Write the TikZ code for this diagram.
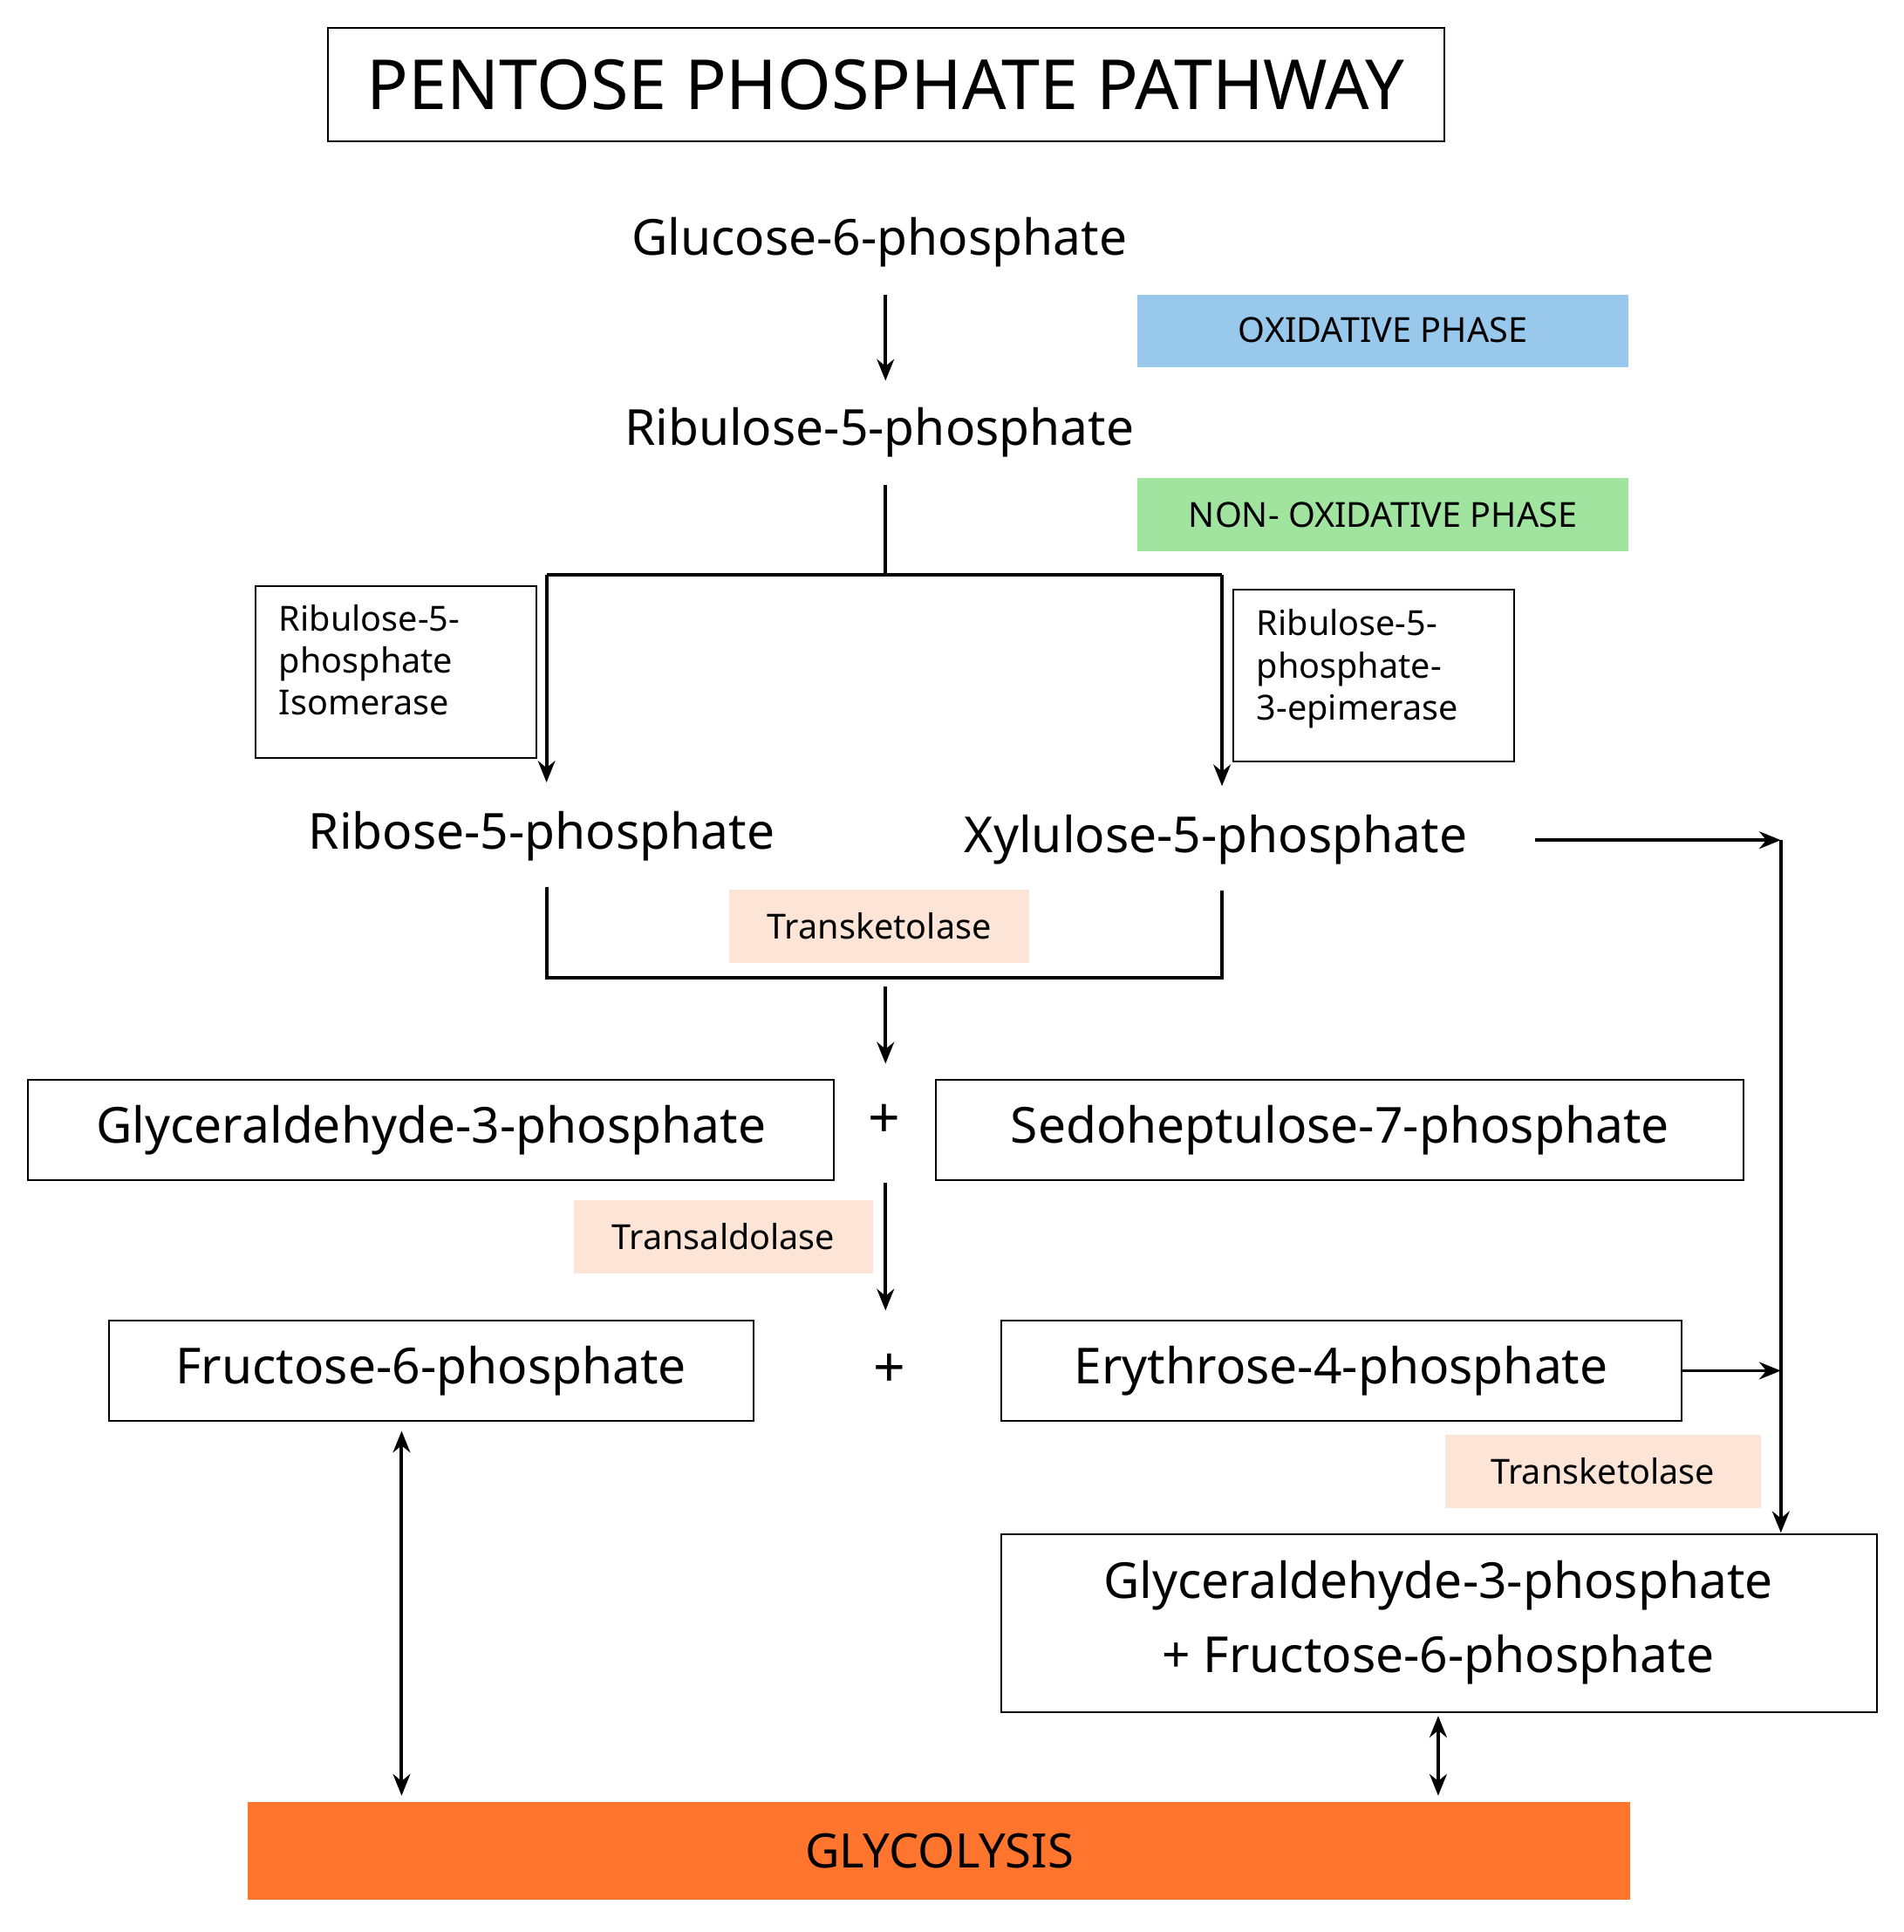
\documentclass[tikz,border=0pt]{standalone}
\usepackage{fontspec}
\setmainfont{Noto Sans}
\usetikzlibrary{arrows.meta}
\definecolor{oxb}{RGB}{152,201,236}
\definecolor{nox}{RGB}{160,228,160}
\definecolor{peach}{RGB}{252,228,214}
\definecolor{orng}{RGB}{255,117,46}
\begin{document}
\begin{tikzpicture}[x=0.02cm,y=-0.02cm,
 big/.style={font=\fontsize{23}{28}\selectfont},
 box/.style={draw,line width=0.8pt},
 enz/.style={fill=peach,font=\fontsize{16}{20}\selectfont,inner sep=0pt},
 ar/.style={line width=1.6pt,-{Stealth[length=10pt,width=8pt]}},
 ln/.style={line width=1.6pt},
 dar/.style={line width=1.6pt,{Stealth[length=10pt,width=8pt]}-{Stealth[length=10pt,width=8pt]}}]
\useasboundingbox (0,0) rectangle (1550,1573);
% title
\draw[box] (267,23) rectangle (1176,115);
\node[font=\fontsize{32}{36}\selectfont\bfseries] (title) at (721,69) {PENTOSE PHOSPHATE PATHWAY};
\node[big] (g6p) at (716,197) {Glucose-6-phosphate};
\fill[oxb] (926,240) rectangle (1326,299);
\node[font=\fontsize{16}{20}\selectfont\bfseries] (ox) at (1126,269) {OXIDATIVE PHASE};
\node[big] (r5p) at (716,352) {Ribulose-5-phosphate};
\fill[nox] (926,389) rectangle (1326,449);
\node[font=\fontsize{16}{20}\selectfont\bfseries] (nox) at (1126,419) {NON- OXIDATIVE PHASE};
\coordinate (a1) at (721,240); \coordinate (a2) at (721,310);
\draw[ar] (a1) -- (a2);
\coordinate (b1) at (721,395); \coordinate (b2) at (721,468);
\coordinate (bl) at (445,468); \coordinate (br) at (995,468);
\coordinate (bl2) at (445,637); \coordinate (br2) at (995,640);
\draw[ln] (b1) -- (b2);
\draw[ln] (bl) -- (br);
\draw[ar] (bl) -- (bl2);
\draw[ar] (br) -- (br2);
\draw[box] (208,477) rectangle (437,617);
\node[font=\fontsize{16}{19.5}\selectfont,align=left,anchor=north west] (iso) at (221,486) {Ribulose-5-\\phosphate\\Isomerase};
\draw[box] (1004,480) rectangle (1233,620);
\node[font=\fontsize{16}{19.5}\selectfont,align=left,anchor=north west] (epi) at (1017,490) {Ribulose-5-\\phosphate-\\3-epimerase};
\node[big] (rib) at (441,681) {Ribose-5-phosphate};
\node[big] (xyl) at (990,684) {Xylulose-5-phosphate};
\coordinate (x1) at (1250,684); \coordinate (xc) at (1450,684); \coordinate (xe) at (1450,1248);
\draw[ar] (x1) -- (xc);
\draw[ar] (xc) -- (xe);
\coordinate (t1) at (445,722); \coordinate (t2) at (445,796); \coordinate (t3) at (995,796); \coordinate (t4) at (995,725);
\draw[ln] (t1) -- (t2) -- (t3) -- (t4);
\node[enz,minimum width=244\pgflinewidth,text width=,minimum width=4.88cm,minimum height=1.2cm] (tk1) at (716,754) {Transketolase};
\coordinate (c1) at (721,803); \coordinate (c2) at (721,866);
\draw[ar] (c1) -- (c2);
\node[box,big,minimum width=13.12cm,minimum height=1.62cm] (gap) at (351,920) {Glyceraldehyde-3-phosphate};
\node[font=\fontsize{26}{30}\selectfont\bfseries] (p1) at (720,913) {+};
\node[box,big,minimum width=13.16cm,minimum height=1.62cm] (s7p) at (1091,920) {Sedoheptulose-7-phosphate};
\node[enz,minimum width=4.88cm,minimum height=1.2cm] (ta) at (589,1007) {Transaldolase};
\coordinate (d1) at (721,963); \coordinate (d2) at (721,1067);
\draw[ar] (d1) -- (d2);
\node[box,big,minimum width=10.5cm,minimum height=1.64cm] (f6p) at (351,1116) {Fructose-6-phosphate};
\node[font=\fontsize{26}{30}\selectfont\bfseries] (p2) at (724,1116) {+};
\node[box,big,minimum width=11.08cm,minimum height=1.64cm] (e4p) at (1092,1116) {Erythrose-4-phosphate};
\coordinate (ec) at (1450,1116);
\draw[ar] (e4p.east) -- (ec);
\node[enz,minimum width=5.14cm,minimum height=1.2cm] (tk2) at (1305,1198) {Transketolase};
\draw[box] (815,1249) rectangle (1528,1394);
\node[big,align=center,font=\fontsize{23}{34}\selectfont] (bot) at (1171,1321) {Glyceraldehyde-3-phosphate\\\textbf{+} Fructose-6-phosphate};
\fill[orng] (202,1467) rectangle (1327,1547);
\node[font=\fontsize{22}{26}\selectfont\bfseries] (gly) at (765,1507) {GLYCOLYSIS};
\coordinate (f1) at (327,1165); \coordinate (f2) at (327,1462);
\draw[dar] (f1) -- (f2);
\coordinate (g1) at (1171,1397); \coordinate (g2) at (1171,1462);
\draw[dar] (g1) -- (g2);
\end{tikzpicture}
\end{document}
